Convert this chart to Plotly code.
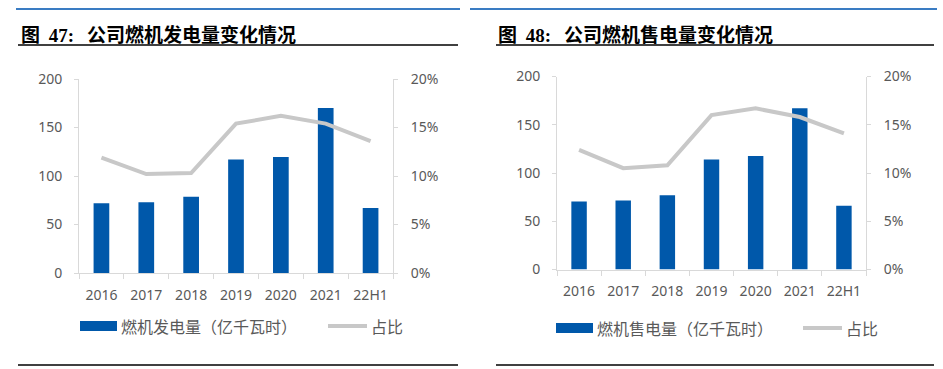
import plotly.graph_objects as go

W, H = 943, 369

categories = ["2016", "2017", "2018", "2019", "2020", "2021", "22H1"]
gen_values = [72, 73, 78.5, 117, 119.5, 170, 67]
gen_share = [0.119, 0.102, 0.103, 0.154, 0.162, 0.154, 0.136]
sale_values = [70.5, 71.5, 77, 114, 117.5, 167, 66]
sale_share = [0.124, 0.105, 0.108, 0.160, 0.167, 0.158, 0.141]
left_ticks = [0, 50, 100, 150, 200]
right_ticks = [0, 0.05, 0.10, 0.15, 0.20]
right_tick_text = ["0%", "5%", "10%", "15%", "20%"]
titles = ["公司燃机发电量变化情况", "公司燃机售电量变化情况"]
fig_nums = ["47:", "48:"]
bar_names = ["燃机发电量（亿千瓦时）", "燃机售电量（亿千瓦时）"]
line_name = "占比"

BLUE = "#0058AA"
GRAY = "#C8C8C8"
AX = "#D9D9D9"
TXT = "#595959"
FONT = "Noto Sans, Noto Sans CJK SC, sans-serif"


def px(x):
    return x / W


def py(y):
    return 1 - y / H


fig = go.Figure()

panels = [
    dict(bars=gen_values, share=gen_share, x0=79, x1=393, y0=273, y1=79,
         xa="x", ya="y", ya2="y2"),
    dict(bars=sale_values, share=sale_share, x0=557, x1=866, y0=269.5, y1=76.5,
         xa="x2", ya="y3", ya2="y4"),
]

for i, p in enumerate(panels):
    fig.add_trace(go.Bar(x=categories, y=p["bars"], name=bar_names[i],
                         marker=dict(color=BLUE, line=dict(width=0)), width=0.35,
                         xaxis=p["xa"], yaxis=p["ya"], showlegend=False))
    fig.add_trace(go.Scatter(x=categories, y=p["share"], name=line_name,
                             mode="lines", line=dict(color=GRAY, width=4),
                             xaxis=p["xa"], yaxis=p["ya2"], showlegend=False))

common_x = dict(type="category", showline=True, linecolor=AX, linewidth=1,
                ticks="outside", tickson="boundaries", ticklen=5, tickcolor=AX,
                tickfont=dict(size=14, color=TXT, family=FONT), showgrid=False,
                ticklabelstandoff=9, automargin=False)
common_y = dict(range=[0, 200], tickvals=left_ticks, showline=True, linecolor=AX,
                ticks="outside", ticklen=4, tickcolor=AX, showgrid=False, zeroline=False,
                tickfont=dict(size=14, color=TXT, family=FONT), ticklabelstandoff=9,
                automargin=False)
common_y2 = dict(range=[0, 0.2], tickvals=right_ticks, ticktext=right_tick_text,
                 side="right", showline=True, linecolor=AX, ticks="outside", ticklen=4,
                 tickcolor=AX, showgrid=False, zeroline=False,
                 tickfont=dict(size=14, color=TXT, family=FONT), ticklabelstandoff=10,
                 automargin=False)

p0, p1 = panels
fig.update_layout(
    xaxis=dict(common_x, domain=[px(p0["x0"]), px(p0["x1"])], anchor="y"),
    yaxis=dict(common_y, domain=[py(p0["y0"]), py(p0["y1"])], anchor="x"),
    yaxis2=dict(common_y2, overlaying="y", anchor="x"),
    xaxis2=dict(common_x, domain=[px(p1["x0"]), px(p1["x1"])], anchor="y3"),
    yaxis3=dict(common_y, domain=[py(p1["y0"]), py(p1["y1"])], anchor="x2"),
    yaxis4=dict(common_y2, overlaying="y3", anchor="x2"),
)

shapes = []
annotations = []

deco = [
    dict(blue=(16, 460), black=(18, 458), title_x=19,
         leg_y=326, box=(80, 117), text_x=119, gline=(328, 367), gtext_x=369),
    dict(blue=(470, 937), black=(496, 934), title_x=496,
         leg_y=328, box=(556, 593), text_x=595, gline=(803, 842), gtext_x=844),
]
for i, d in enumerate(deco):
    shapes.append(dict(type="line", xref="paper", yref="paper",
                       x0=px(d["blue"][0]), x1=px(d["blue"][1]), y0=py(9), y1=py(9),
                       line=dict(color="#3A7CC3", width=2)))
    shapes.append(dict(type="line", xref="paper", yref="paper",
                       x0=px(d["black"][0]), x1=px(d["black"][1]), y0=py(45), y1=py(45),
                       line=dict(color="#000000", width=1.3)))
    shapes.append(dict(type="line", xref="paper", yref="paper",
                       x0=px(d["black"][0]), x1=px(d["black"][1]), y0=py(365), y1=py(365),
                       line=dict(color="#000000", width=1.3)))
    annotations.append(dict(
        xref="paper", yref="paper", x=px(d["title_x"]), y=py(33),
        xanchor="left", yanchor="middle", showarrow=False,
        text=("<b>图&nbsp;&nbsp;<span style=\"font-family:'Liberation Serif'\">" + fig_nums[i] +
              "</span>&nbsp;&nbsp;&nbsp;" + titles[i] + "</b>"),
        font=dict(size=19, color="#000000", family="Noto Sans CJK SC")))
    shapes.append(dict(type="rect", xref="paper", yref="paper",
                       x0=px(d["box"][0]), x1=px(d["box"][1]),
                       y0=py(d["leg_y"] + 5), y1=py(d["leg_y"] - 5),
                       fillcolor=BLUE, line=dict(width=0)))
    annotations.append(dict(xref="paper", yref="paper", x=px(d["text_x"]), y=py(d["leg_y"]),
                            xanchor="left", yanchor="middle", showarrow=False,
                            text=bar_names[i],
                            font=dict(size=16, color=TXT, family="Noto Sans CJK SC")))
    shapes.append(dict(type="line", xref="paper", yref="paper",
                       x0=px(d["gline"][0]), x1=px(d["gline"][1]),
                       y0=py(d["leg_y"]), y1=py(d["leg_y"]),
                       line=dict(color=GRAY, width=4)))
    annotations.append(dict(xref="paper", yref="paper", x=px(d["gtext_x"]), y=py(d["leg_y"]),
                            xanchor="left", yanchor="middle", showarrow=False,
                            text=line_name,
                            font=dict(size=16, color=TXT, family="Noto Sans CJK SC")))

fig.update_layout(
    width=W, height=H, margin=dict(l=0, r=0, t=0, b=0, autoexpand=False),
    paper_bgcolor="white", plot_bgcolor="white",
    shapes=shapes, annotations=annotations, showlegend=False,
    font=dict(family=FONT, color=TXT),
)

fig.write_html(
    "out.html",
    config={"displayModeBar": False},
    post_script="document.body.style.margin='0px';document.body.style.overflow='hidden';",
)
